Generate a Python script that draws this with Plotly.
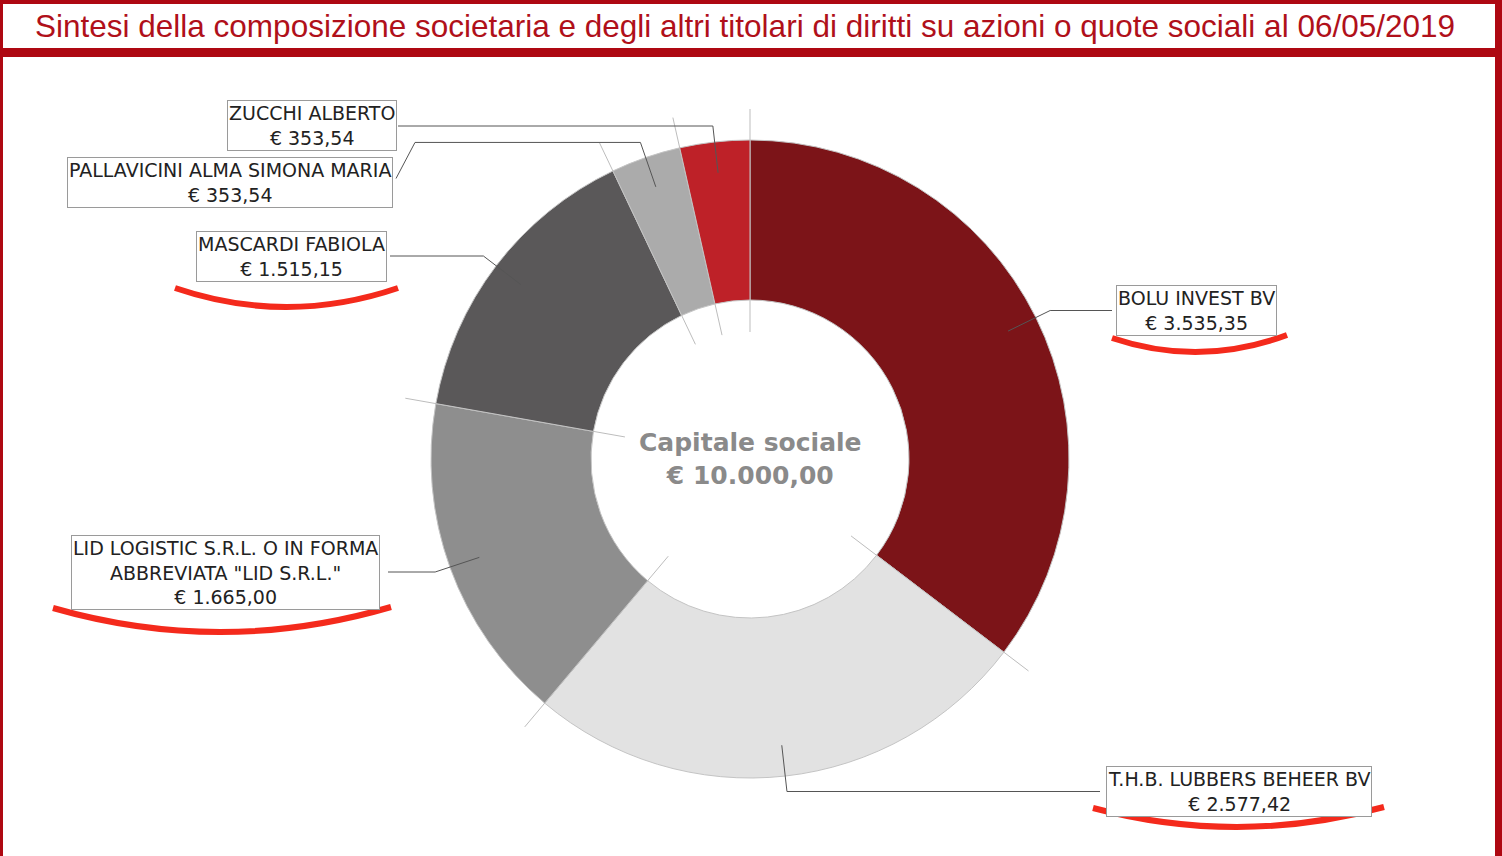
import math
import plotly.graph_objects as go

# ---------------- data ----------------
holders = [
    "BOLU INVEST BV",
    "T.H.B. LUBBERS BEHEER BV",
    'LID LOGISTIC S.R.L. O IN FORMA<br>ABBREVIATA "LID S.R.L."',
    "MASCARDI FABIOLA",
    "PALLAVICINI ALMA SIMONA MARIA",
    "ZUCCHI ALBERTO",
]
amounts = [3535.35, 2577.42, 1665.00, 1515.15, 353.54, 353.54]
slice_colors = ["#7C1418", "#E2E2E2", "#8E8E8E", "#5A5859", "#ABABAB", "#BE2128"]
title_text = ("Sintesi della composizione societaria e degli altri titolari di diritti "
              "su azioni o quote sociali al 06/05/2019")
center_caption = "Capitale sociale"

# ---------------- layout constants (pixels) ----------------
W, H = 1502, 856
CX, CY = 750, 459          # donut centre
R_OUT, R_IN = 319, 159
RED = "#AE0812"

# label boxes: centre x, centre y, edge x where leader meets box
box_pos = [
    (1196, 310.5, 1112),
    (1238.5, 791.5, 1100),
    (225, 572, 388),
    (291, 256, 390),
    (229.5, 182.5, 396),
    (312, 126, 398),
]


def px(x):
    return x / W


def py(y):
    return 1 - y / H


def euro(v):
    s = f"{v:,.2f}"
    s = s.replace(",", "X").replace(".", ",").replace("X", ".")
    return "€ " + s


def polar(angle_deg, r):
    a = math.radians(angle_deg)
    return CX + r * math.sin(a), CY - r * math.cos(a)


total = sum(amounts)

fig = go.Figure()
fig.add_trace(go.Pie(
    labels=[h.replace("<br>", " ") for h in holders],
    values=amounts,
    hole=R_IN / R_OUT,
    sort=False,
    direction="clockwise",
    rotation=0,
    marker=dict(colors=slice_colors, line=dict(color="#C4C4C4", width=1)),
    textinfo="none",
    hoverinfo="label+value",
    showlegend=False,
    domain=dict(x=[px(CX - R_OUT), px(CX + R_OUT)],
                y=[py(CY + R_OUT), py(CY - R_OUT)]),
))

shapes = []
annotations = []

# slice separator lines extending beyond the ring
cum = 0.0
bounds = []
for v in amounts:
    bounds.append(cum / total * 360)
    cum += v
for a in bounds:
    x0, y0 = polar(a, 127)
    x1, y1 = polar(a, 350)
    shapes.append(dict(type="line", xref="paper", yref="paper",
                       x0=px(x0), y0=py(y0), x1=px(x1), y1=py(y1),
                       line=dict(color="#BDBDBD", width=1), layer="below"))

# leader lines + label boxes
cum = 0.0
for i, v in enumerate(amounts):
    mid = (cum + v / 2) / total * 360
    cum += v
    bx, by, ex = box_pos[i]
    xi, yi = polar(mid, 288)
    xe, ye = polar(mid, 335)
    if i != 4:
        ye = by
    if i == 4:
        path = (f"M {px(xi)},{py(yi)} L {px(xe)},{py(ye)} "
                f"L {px(415)},{py(ye)} L {px(ex)},{py(by - 4)}")
    else:
        path = (f"M {px(xi)},{py(yi)} L {px(xe)},{py(ye)} "
                f"L {px(ex)},{py(ye)}")
    shapes.append(dict(type="path", xref="paper", yref="paper", path=path,
                       line=dict(color="#555555", width=1), layer="above"))
    annotations.append(dict(
        x=px(bx), y=py(by), xref="paper", yref="paper",
        xanchor="center", yanchor="middle", showarrow=False,
        text=f"{holders[i]}<br>{euro(v)}", align="center",
        font=dict(family="DejaVu Sans", size=19, color="#222222"),
        bgcolor="white", bordercolor="#9A9A9A", borderwidth=1, borderpad=1,
    ))

# red hand-drawn underlines (endpoint left, endpoint right, lowest point)
curves = [
    ((1112, 338), (1287, 335), 352),
    ((1093, 808), (1384, 807), 827),
    ((53, 608), (391, 607), 632),
    ((175, 288), (398, 288), 307),
]
for (l, r, bottom) in curves:
    cy = 2 * bottom - (l[1] + r[1]) / 2
    cx = (l[0] + r[0]) / 2
    path = f"M {px(l[0])},{py(l[1])} Q {px(cx)},{py(cy)} {px(r[0])},{py(r[1])}"
    shapes.append(dict(type="path", xref="paper", yref="paper", path=path,
                       line=dict(color="#F42A1C", width=6), layer="above"))

# centre caption
annotations.append(dict(
    x=px(CX), y=py(CY), xref="paper", yref="paper", showarrow=False,
    xanchor="center", yanchor="middle",
    text=f"<b>{center_caption}</b><br><b>{euro(total)}</b>",
    font=dict(family="DejaVu Sans", size=25, color="#8A8A8A"),
))

# title
annotations.append(dict(
    x=px(745), y=py(26), xref="paper", yref="paper", showarrow=False,
    xanchor="center", yanchor="middle", text=title_text,
    font=dict(family="Liberation Sans, Arial", size=31.5, color="#B0101A"),
))

# frame
for (x0, y0, x1, y1) in [(0, 0, W, 4), (0, 48, W, 57), (0, 0, 3, H), (1495, 0, W, H)]:
    shapes.append(dict(type="rect", xref="paper", yref="paper",
                       x0=px(x0), x1=px(x1), y0=py(y1), y1=py(y0),
                       fillcolor=RED, line=dict(width=0), layer="above"))

fig.update_layout(
    width=W, height=H, autosize=False,
    margin=dict(l=0, r=0, t=0, b=0),
    paper_bgcolor="white", plot_bgcolor="white",
    shapes=shapes, annotations=annotations,
)

fig.write_html("out.html", config={"displayModeBar": False},
               post_script="document.body.style.margin='0';document.body.style.overflow='hidden';")
